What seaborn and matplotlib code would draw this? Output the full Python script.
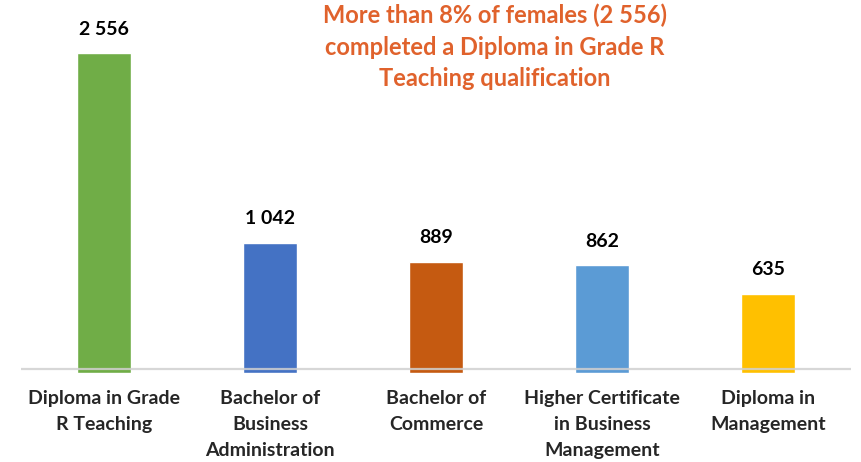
import matplotlib
matplotlib.use("Agg")
import matplotlib.pyplot as plt
import seaborn as sns
import pandas as pd

# datos
categorias = [
    "Diploma in Grade\nR Teaching",
    "Bachelor of\nBusiness\nAdministration",
    "Bachelor of\nCommerce",
    "Higher Certificate\nin Business\nManagement",
    "Diploma in\nManagement",
]
valores = [2556, 1042, 889, 862, 635]
etiquetas = ["2 556", "1 042", "889", "862", "635"]
colores = ["#70AD47", "#4472C4", "#C55A11", "#5B9BD5", "#FFC000"]
titulo = "More than 8% of females (2 556)\ncompleted a Diploma in Grade R\nTeaching qualification"

sns.set_style("white")
plt.rcParams["font.family"] = ["Lato", "DejaVu Sans"]

df = pd.DataFrame({"cat": categorias, "val": valores})

fig = plt.figure(figsize=(8.62, 4.62), dpi=100)
ax = fig.add_axes([21 / 862, 1 - 373 / 462, 830 / 862, 373 / 462])

sns.barplot(data=df, x="cat", y="val", hue="cat", palette=colores,
            legend=False, width=0.32, saturation=1, ax=ax)

ax.set_xlim(-0.5, 4.5)
ax.set_ylim(0, 2556 * 373 / 320)
ax.axhline(28, color="#D0D0D0", lw=1.6, alpha=0.85, zorder=3)

for i, (v, t) in enumerate(zip(valores, etiquetas)):
    ax.annotate(t, (i, v), xytext=(0, 11), textcoords="offset points",
                ha="center", va="bottom", fontsize=14, fontweight="bold",
                color="black")

ax.set_xlabel("")
ax.set_ylabel("")
ax.set_yticks([])
ax.tick_params(axis="x", length=0, pad=12)
ax.set_xticks(range(len(categorias)))
ax.set_xticklabels(categorias, fontsize=14, fontweight="bold",
                   linespacing=1.65)
sns.despine(ax=ax, left=True, bottom=True)

fig.text(495 / 862, 1 - 47 / 462, titulo, ha="center", va="center",
         fontsize=17, fontweight="bold", color="#E0622C", linespacing=1.45)

fig.savefig("out.png", dpi=100)
